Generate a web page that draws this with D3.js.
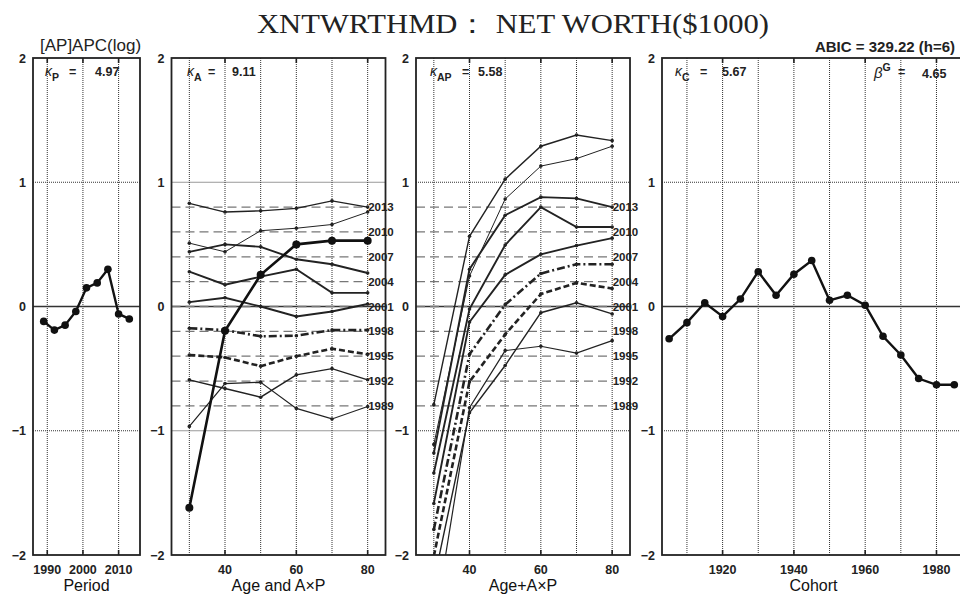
<!DOCTYPE html>
<html><head><meta charset="utf-8">
<script src="https://cdn.jsdelivr.net/npm/d3@7"></script>
<style>
body{margin:0;background:#fff;}
svg{display:block;font-family:"Liberation Sans",Arial,sans-serif;}
</style></head>
<body>
<svg id="chart" width="960" height="595"></svg>
<script>
// ---------- data ----------
const periods = [1989, 1992, 1995, 1998, 2001, 2004, 2007, 2010, 2013];
const periodEffect = [-0.12, -0.19, -0.15, -0.04, 0.15, 0.19, 0.30, -0.06, -0.10];

const ages = [30, 40, 50, 60, 70, 80];
const ageEffect = [-1.62, -0.196, 0.255, 0.50, 0.53, 0.53];

const cohorts = [1905, 1910, 1915, 1920, 1925, 1930, 1935, 1940, 1945, 1950, 1955, 1960, 1965, 1970, 1975, 1980, 1985];
const cohortEffect = [-0.26, -0.13, 0.03, -0.08, 0.06, 0.28, 0.09, 0.26, 0.37, 0.05, 0.09, 0.01, -0.24, -0.39, -0.58, -0.63, -0.63];

const apLabels = ["2013", "2010", "2007", "2004", "2001", "1998", "1995", "1992", "1989"];
const apRefLevels = [0.8, 0.6, 0.4, 0.2, 0.0, -0.2, -0.4, -0.6, -0.8];
// Age and AxP panel (A x P lines by period)
const apValues = [
  [0.83, 0.76, 0.77, 0.79, 0.85, 0.80],
  [0.51, 0.44, 0.61, 0.63, 0.66, 0.76],
  [0.44, 0.50, 0.48, 0.38, 0.34, 0.27],
  [0.28, 0.175, 0.24, 0.30, 0.11, 0.11],
  [0.035, 0.07, 0.0, -0.08, -0.04, 0.02],
  [-0.175, -0.19, -0.24, -0.235, -0.19, -0.19],
  [-0.39, -0.41, -0.48, -0.40, -0.34, -0.385],
  [-0.59, -0.66, -0.73, -0.55, -0.50, -0.59],
  [-0.965, -0.62, -0.61, -0.82, -0.905, -0.805]
];
// Age + AxP panel
const agePlusAp = [
  [-0.79, 0.565, 1.025, 1.29, 1.38, 1.335],
  [-1.11, 0.245, 0.865, 1.13, 1.19, 1.29],
  [-1.18, 0.30, 0.735, 0.88, 0.87, 0.80],
  [-1.34, -0.02, 0.495, 0.80, 0.64, 0.64],
  [-1.585, -0.125, 0.255, 0.42, 0.49, 0.55],
  [-1.795, -0.385, 0.015, 0.265, 0.34, 0.34],
  [-2.01, -0.605, -0.225, 0.10, 0.19, 0.145],
  [-2.21, -0.855, -0.475, -0.05, 0.03, -0.06],
  [-2.585, -0.815, -0.355, -0.32, -0.375, -0.275]
];
const apWidths = [1.4, 1.0, 1.9, 1.9, 1.9, 2.6, 2.6, 1.4, 1.2];
const apDash = [null, null, null, null, null, "8,3,2,3", "6,3", null, null];

const yTicks = [2, 1, 0, -1, -2];
const periodTicks = [1990, 2000, 2010];
const ageGrid = [30, 40, 50, 60, 70, 80];
const ageTicks = [40, 60, 80];
const cohortGrid = [1910, 1920, 1930, 1940, 1950, 1960, 1970, 1980];
const cohortTicks = [1920, 1940, 1960, 1980];

// ---------- layout ----------
const svg = d3.select("#chart");
const y = d3.scaleLinear().domain([-2, 2]).range([555, 58]);
const yTop = y(2), yBot = y(-2);

const panels = [
  {id: "p", x: d3.scaleLinear().domain([1986, 2016]).range([33, 140]), grid: periodTicks, ticks: periodTicks, title: "Period"},
  {id: "a", x: d3.scaleLinear().domain([25, 85]).range([171.5, 385.5]), grid: ageGrid, ticks: ageTicks, title: "Age and A\u00d7P"},
  {id: "ap", x: d3.scaleLinear().domain([25, 85]).range([416, 630]), grid: ageGrid, ticks: ageTicks, title: "Age+A\u00d7P"},
  {id: "c", x: d3.scaleLinear().domain([1903, 1988]).range([662, 965]), grid: cohortGrid, ticks: cohortTicks, title: "Cohort"}
];

const defs = svg.append("defs");
panels.forEach(p => {
  const [x0, x1] = p.x.range();
  defs.append("clipPath").attr("id", "clip-" + p.id)
    .append("rect").attr("x", x0).attr("y", yTop).attr("width", x1 - x0).attr("height", yBot - yTop);
});

// ---------- panel frames, grids, axes ----------
panels.forEach(p => {
  const [x0, x1] = p.x.range();
  const g = svg.append("g");
  const gc = g.append("g").attr("clip-path", `url(#clip-${p.id})`);
  gc.selectAll(".vg").data(p.grid).join("line")
    .attr("x1", d => p.x(d)).attr("x2", d => p.x(d)).attr("y1", yTop).attr("y2", yBot)
    .attr("stroke", "#333").attr("stroke-width", 1).attr("stroke-dasharray", "1,1");
  gc.selectAll(".hg").data([1, -1]).join("line")
    .attr("x1", x0).attr("x2", x1).attr("y1", d => y(d)).attr("y2", d => y(d))
    .attr("stroke", "#333").attr("stroke-width", 1).attr("stroke-dasharray", "1,1");
  gc.append("line").attr("x1", x0).attr("x2", x1).attr("y1", y(0)).attr("y2", y(0))
    .attr("stroke", "#333").attr("stroke-width", 1.6);
  p.g = g; p.gc = gc;
  g.selectAll(".yl").data(yTicks).join("text")
    .attr("x", x0 - 7).attr("y", d => y(d) + 4.5)
    .attr("text-anchor", "end").attr("font-size", 12.5).attr("font-weight", "bold").attr("fill", "#222")
    .text(d => d < 0 ? "\u2212" + Math.abs(d) : d);
  const xt = g.selectAll(".xt").data(p.ticks).join("g");
  xt.append("line").attr("x1", d => p.x(d)).attr("x2", d => p.x(d)).attr("y1", yBot).attr("y2", yBot - 5)
    .attr("stroke", "#222").attr("stroke-width", 1.6);
  xt.append("line").attr("x1", d => p.x(d)).attr("x2", d => p.x(d)).attr("y1", yTop).attr("y2", yTop + 5)
    .attr("stroke", "#222").attr("stroke-width", 1.6);
  xt.append("text").attr("x", d => p.x(d)).attr("y", 574)
    .attr("text-anchor", "middle").attr("font-size", 12.5).attr("font-weight", "bold").attr("fill", "#222")
    .text(d => d);
  g.append("text").attr("x", (x0 + Math.min(x1, 965)) / 2).attr("y", 591)
    .attr("text-anchor", "middle").attr("font-size", 16).attr("fill", "#111").text(p.title);
});

// ---------- reference dashed lines ----------
[1, 2].forEach(i => {
  const p = panels[i];
  const [x0] = p.x.range();
  const lx = p.x(80) + 0.8;
  p.gc.selectAll(".ref").data(apRefLevels).join("line")
    .attr("x1", x0).attr("x2", lx - 1).attr("y1", d => y(d)).attr("y2", d => y(d))
    .attr("stroke", "#777").attr("stroke-width", 1.3).attr("stroke-dasharray", "9,5");
});

// ---------- panel 2: A x P lines + age effect ----------
{
  const p = panels[1];
  apValues.forEach((vals, k) => {
    p.gc.append("path").attr("d", d3.line().x((d, i) => p.x(ages[i])).y(d => y(d))(vals))
      .attr("fill", "none").attr("stroke", "#222").attr("stroke-width", apWidths[k])
      .attr("stroke-dasharray", apDash[k]);
    p.gc.selectAll(null).data(vals).join("circle")
      .attr("cx", (d, i) => p.x(ages[i])).attr("cy", d => y(d)).attr("r", 1.8).attr("fill", "#222");
  });
  p.gc.append("path").attr("d", d3.line().x((d, i) => p.x(ages[i])).y(d => y(d))(ageEffect))
    .attr("fill", "none").attr("stroke", "#111").attr("stroke-width", 2.6);
  p.gc.selectAll(null).data(ageEffect).join("circle")
    .attr("cx", (d, i) => p.x(ages[i])).attr("cy", d => y(d)).attr("r", 4).attr("fill", "#111");
}

// ---------- panel 3: Age + A x P ----------
{
  const p = panels[2];
  agePlusAp.forEach((vals, k) => {
    p.gc.append("path").attr("d", d3.line().x((d, i) => p.x(ages[i])).y(d => y(d))(vals))
      .attr("fill", "none").attr("stroke", "#222").attr("stroke-width", apWidths[k])
      .attr("stroke-dasharray", apDash[k]);
    p.gc.selectAll(null).data(vals).join("circle")
      .attr("cx", (d, i) => p.x(ages[i])).attr("cy", d => y(d)).attr("r", 1.8).attr("fill", "#222");
  });
}

[1, 2].forEach(i => {
  const p = panels[i];
  const lx = p.x(80) + 0.5;
  p.g.selectAll(".rl").data(apLabels).join("text")
    .attr("x", lx).attr("y", (d, k) => y(apRefLevels[k]) + 4)
    .attr("font-size", 11.5).attr("font-weight", "bold").attr("fill", "#222")
    .text(d => d);
});

// ---------- panel 1: period ----------
{
  const p = panels[0];
  p.gc.append("path").attr("d", d3.line().x((d, i) => p.x(periods[i])).y(d => y(d))(periodEffect))
    .attr("fill", "none").attr("stroke", "#111").attr("stroke-width", 2.4);
  p.gc.selectAll(null).data(periodEffect).join("circle")
    .attr("cx", (d, i) => p.x(periods[i])).attr("cy", d => y(d)).attr("r", 3.8).attr("fill", "#111");
}

// ---------- panel 4: cohort ----------
{
  const p = panels[3];
  p.gc.append("path").attr("d", d3.line().x((d, i) => p.x(cohorts[i])).y(d => y(d))(cohortEffect))
    .attr("fill", "none").attr("stroke", "#111").attr("stroke-width", 2.4);
  p.gc.selectAll(null).data(cohortEffect).join("circle")
    .attr("cx", (d, i) => p.x(cohorts[i])).attr("cy", d => y(d)).attr("r", 3.8).attr("fill", "#111");
}

// ---------- frames ----------
panels.forEach(p => {
  const [x0, x1] = p.x.range();
  svg.append("rect").attr("x", x0).attr("y", yTop).attr("width", x1 - x0).attr("height", yBot - yTop)
    .attr("fill", "none").attr("stroke", "#222").attr("stroke-width", 1.8);
});

// ---------- statistic labels ----------
function kappa(x, sub, xEq, val, xVal) {
  const t = svg.append("text").attr("y", 76).attr("font-size", 12).attr("font-weight", "bold").attr("fill", "#222");
  t.append("tspan").attr("x", x).attr("font-style", "italic").attr("font-weight", "normal").attr("font-size", 14).text("\u03ba");
  t.append("tspan").attr("dy", 5).attr("font-size", 10.5).text(sub);
  svg.append("text").attr("x", xEq).attr("y", 76).attr("font-size", 12.5).attr("font-weight", "bold").attr("fill", "#222").text("=");
  svg.append("text").attr("x", xVal).attr("y", 76).attr("font-size", 12.5).attr("font-weight", "bold").attr("fill", "#222").text(val);
}
kappa(45, "P", 69, "4.97", 95);
kappa(187, "A", 208, "9.11", 232);
kappa(430, "AP", 462, "5.58", 478);
kappa(675, "C", 700, "5.67", 722);
{
  const t = svg.append("text").attr("y", 78).attr("font-size", 12).attr("font-weight", "bold").attr("fill", "#222");
  t.append("tspan").attr("x", 874).attr("font-style", "italic").attr("font-weight", "normal").attr("font-size", 15).text("\u03b2");
  t.append("tspan").attr("dy", -7).attr("font-size", 10.5).text("G");
  svg.append("text").attr("x", 898).attr("y", 76).attr("font-size", 12.5).attr("font-weight", "bold").attr("fill", "#222").text("=");
  svg.append("text").attr("x", 922).attr("y", 78).attr("font-size", 12.5).attr("font-weight", "bold").attr("fill", "#222").text("4.65");
}

// ---------- titles ----------
svg.append("text").attr("x", 513).attr("y", 33).attr("text-anchor", "middle")
  .attr("font-family", "'Liberation Serif','DejaVu Serif',serif").attr("font-size", 27).attr("fill", "#222")
  .attr("textLength", 512).attr("lengthAdjust", "spacingAndGlyphs")
  .text("XNTWRTHMD\uff1a NET WORTH($1000)");
svg.append("text").attr("x", 40).attr("y", 51).attr("font-size", 17).attr("fill", "#222").text("[AP]APC(log)");
svg.append("text").attr("x", 955).attr("y", 52).attr("text-anchor", "end").attr("font-size", 15).attr("font-weight", "bold").attr("fill", "#222").text("ABIC = 329.22 (h=6)");
</script>
</body></html>
